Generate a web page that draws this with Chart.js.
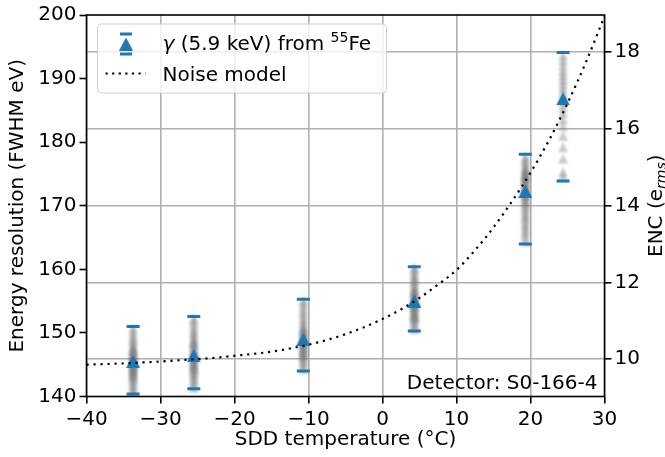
<!DOCTYPE html>
<html>
<head>
<meta charset="utf-8">
<title>SDD energy resolution vs temperature</title>
<style>
    body { margin: 0; background: #fff; }
    #wrap { width: 665px; height: 457px; }
</style>
<script src="https://cdn.jsdelivr.net/npm/chart.js"></script>
</head>
<body>
<div id="wrap"><canvas id="chart"></canvas></div>
<script>
// measurement temperatures (deg C) and the 55Fe peak width summary
const temperature = [-33.7, -25.5, -10.7, 4.3, 19.3, 24.4];
const meanFwhm = [145.5, 146.4, 149.0, 155.0, 172.3, 186.8];
const maxFwhm = [151.0, 152.6, 155.3, 160.4, 178.1, 194.1];
const minFwhm = [140.4, 141.2, 144.0, 150.3, 164.0, 173.9];

// individual runs at each temperature (grey cloud)
const runsM34 = [140.6, 141.0, 141.5, 141.9, 142.4, 142.7, 143.1, 143.3, 143.5, 143.8, 144.0, 144.2, 144.4, 144.6, 144.8, 145.0, 145.2, 145.3, 145.5, 145.7, 145.9, 146.1, 146.2, 146.4, 146.6, 146.8, 147.1, 147.3, 147.5, 147.8, 148.2, 148.7, 149.1, 149.6, 150.2, 150.8];
const runsM26 = [141.4, 141.9, 142.4, 142.8, 143.3, 143.6, 144.0, 144.3, 144.5, 144.8, 145.0, 145.2, 145.5, 145.7, 146.0, 146.2, 146.4, 146.6, 146.8, 147.1, 147.3, 147.6, 148.0, 148.3, 148.5, 148.8, 149.2, 149.7, 150.1, 150.6, 151.2, 151.8, 152.3];
const runsM11 = [144.3, 144.8, 145.3, 145.7, 146.1, 146.4, 146.6, 146.9, 147.1, 147.3, 147.6, 147.8, 148.1, 148.3, 148.5, 148.7, 148.9, 149.2, 149.4, 149.7, 149.9, 150.1, 150.4, 150.6, 150.9, 151.3, 151.8, 152.3, 152.9, 153.4, 154.0, 154.6, 155.1];
const runsP4 = [150.6, 151.0, 151.4, 151.9, 152.2, 152.4, 152.6, 152.8, 153.0, 153.3, 153.5, 153.8, 154.0, 154.2, 154.4, 154.6, 154.8, 155.0, 155.3, 155.5, 155.8, 156.0, 156.2, 156.5, 156.7, 157.0, 157.4, 157.9, 158.2, 158.6, 159.0, 159.5, 160.0, 160.3];
const runsP19 = [164.4, 165.1, 165.7, 166.2, 166.8, 167.3, 167.9, 168.3, 168.8, 169.4, 169.8, 170.3, 170.6, 170.9, 171.3, 171.6, 171.8, 172.1, 172.4, 172.6, 172.8, 173.1, 173.3, 173.6, 173.9, 174.1, 174.3, 174.5, 174.7, 174.9, 175.1, 175.4, 175.6, 175.9, 176.3, 176.8, 177.2, 177.7];
const runsP24 = [174.6, 175.3, 177.4, 179.2, 181.0, 182.5, 183.6, 184.6, 185.5, 186.3, 187.0, 187.7, 188.4, 189.1, 189.8, 190.5, 191.2, 192.0, 192.8, 193.6];
const runsFwhm = [runsM34, runsM26, runsM11, runsP4, runsP19, runsP24];

// noise model curve
const modelTemp = [-40, -37.5, -35, -32.5, -30, -27.5, -25, -22.5, -20, -17.5, -15, -12.5, -10, -7.5, -5, -2.5, 0, 2.5, 5, 7.5, 10, 12.5, 15, 17.5, 20, 22.5, 25, 27.5, 30];
const modelFwhm = [145.0, 145.1, 145.2, 145.35, 145.5, 145.7, 145.9, 146.1, 146.4, 146.7, 147.05, 147.55, 148.15, 148.9, 149.8, 150.9, 152.2, 153.7, 155.5, 157.6, 159.9, 163.0, 166.6, 170.7, 175.2, 180.3, 186.1, 192.6, 199.8];

// axis ticks
const tempTicks = [-40, -30, -20, -10, 0, 10, 20, 30];
const fwhmTicks = [140, 150, 160, 170, 180, 190, 200];
const encTicks = [10, 12, 14, 16, 18];
const encRange = [9.03, 18.96];

const BLUE = '#1f77b4';
const FONT = 'DejaVu Sans';

// triangle marker drawn into a small canvas, used as pointStyle
function triangleImage(w, h, color, blur) {
    const pad = blur ? 3 : 0;
    const c = document.createElement('canvas');
    c.width = w + 2 * pad;
    c.height = h + 2 * pad;
    const g = c.getContext('2d');
    if (blur) g.filter = 'blur(' + blur + 'px)';
    g.fillStyle = color;
    g.beginPath();
    g.moveTo(pad + w / 2, pad);
    g.lineTo(pad + w, pad + h);
    g.lineTo(pad, pad + h);
    g.closePath();
    g.fill();
    return c;
}

const meanMarker = triangleImage(14, 13, BLUE, 0);
const runMarker = triangleImage(10, 10, 'rgba(120,120,120,0.38)', 0.9);

const cloud = [];
runsFwhm.forEach((runs, i) => runs.forEach(v => cloud.push({x: temperature[i], y: v})));
const caps = [];
temperature.forEach((t, i) => {
    caps.push({x: t, y: maxFwhm[i]});
    caps.push({x: t, y: minFwhm[i]});
});
const means = temperature.map((t, i) => ({x: t, y: meanFwhm[i]}));
const model = modelTemp.map((t, i) => ({x: t, y: modelFwhm[i]}));

const fixTicks = arr => scale => { scale.ticks = arr.map(v => ({value: v})); };
const minus = v => String(v).replace('-', '\u2212');

// frame, legend, annotations
const decorations = {
    id: 'decorations',
    afterDatasetsDraw(chart) {
        const {ctx, chartArea: a} = chart;
        ctx.save();
        ctx.strokeStyle = '#000';
        ctx.lineWidth = 1.6;
        ctx.strokeRect(a.left, a.top, a.right - a.left, a.bottom - a.top);
        ctx.restore();
    },
    afterDraw(chart) {
        const {ctx, chartArea: a} = chart;
        ctx.save();

        // legend box
        const bx = a.left + 11, by = a.top + 9, bw = 289, bh = 69, r = 4;
        ctx.beginPath();
        ctx.moveTo(bx + r, by);
        ctx.arcTo(bx + bw, by, bx + bw, by + bh, r);
        ctx.arcTo(bx + bw, by + bh, bx, by + bh, r);
        ctx.arcTo(bx, by + bh, bx, by, r);
        ctx.arcTo(bx, by, bx + bw, by, r);
        ctx.closePath();
        ctx.fillStyle = 'rgba(255,255,255,0.8)';
        ctx.fill();
        ctx.strokeStyle = '#d0d0d0';
        ctx.lineWidth = 1;
        ctx.stroke();

        // errorbar handle
        const mx = bx + 28.5, my = by + 20;
        ctx.strokeStyle = BLUE;
        ctx.lineWidth = 3;
        ctx.beginPath();
        ctx.moveTo(mx - 6, my - 10); ctx.lineTo(mx + 6, my - 10);
        ctx.moveTo(mx - 6, my + 10); ctx.lineTo(mx + 6, my + 10);
        ctx.stroke();
        ctx.drawImage(meanMarker, mx - 7, my - 6.5);

        // noise model handle
        ctx.strokeStyle = '#000';
        ctx.lineWidth = 2.2;
        ctx.setLineDash([2.2, 4.4]);
        ctx.beginPath();
        ctx.moveTo(bx + 8, by + 49.5);
        ctx.lineTo(bx + 48, by + 49.5);
        ctx.stroke();
        ctx.setLineDash([]);

        // legend labels
        ctx.fillStyle = '#000';
        ctx.textBaseline = 'alphabetic';
        let tx = bx + 65;
        const base1 = by + 26;
        ctx.font = 'italic 20px ' + FONT;
        ctx.fillText('\u03b3', tx, base1);
        tx += ctx.measureText('\u03b3').width;
        ctx.font = '20px ' + FONT;
        const mid = ' (5.9 keV) from ';
        ctx.fillText(mid, tx, base1);
        tx += ctx.measureText(mid).width;
        ctx.font = '14px ' + FONT;
        ctx.fillText('55', tx, base1 - 8);
        tx += ctx.measureText('55').width;
        ctx.font = '20px ' + FONT;
        ctx.fillText('Fe', tx, base1);
        ctx.fillText('Noise model', bx + 65, by + 57);

        // detector label
        ctx.textAlign = 'right';
        ctx.fillText('Detector: S0-166-4', a.right - 7, a.bottom - 8);

        // right axis title, reads bottom to top
        ctx.translate(661.5, (a.top + a.bottom) / 2);
        ctx.rotate(-Math.PI / 2);
        ctx.textAlign = 'left';
        ctx.font = '20px ' + FONT;
        const p1 = 'ENC (e';
        const w1 = ctx.measureText(p1).width;
        ctx.font = 'italic 14px ' + FONT;
        const w2 = ctx.measureText('rms').width;
        ctx.font = '20px ' + FONT;
        const w3 = ctx.measureText(')').width;
        let sx = -(w1 + w2 + w3) / 2;
        ctx.fillText(p1, sx, 0);
        sx += w1;
        ctx.font = 'italic 14px ' + FONT;
        ctx.fillText('rms', sx, 4);
        sx += w2;
        ctx.font = '20px ' + FONT;
        ctx.fillText(')', sx, 0);
        ctx.restore();
    }
};

Chart.defaults.font.family = FONT;
Chart.defaults.font.size = 20;
Chart.defaults.color = '#000';

const tickGrid = {
    display: true,
    drawOnChartArea: false,
    tickColor: '#000',
    tickLength: 7,
    tickWidth: 1.6
};

new Chart(document.getElementById('chart'), {
    type: 'scatter',
    data: {
        datasets: [
            {
                label: 'Noise model',
                data: model,
                showLine: true,
                borderColor: '#000',
                borderWidth: 2.2,
                borderDash: [2.2, 4.8],
                borderCapStyle: 'butt',
                cubicInterpolationMode: 'monotone',
                pointRadius: 0,
                order: 0
            },
            {
                label: 'mean',
                data: means,
                pointStyle: meanMarker,
                pointRadius: 7,
                order: 1
            },
            {
                label: 'range',
                data: caps,
                pointStyle: 'line',
                pointRadius: 6.5,
                borderColor: BLUE,
                pointBorderWidth: 3,
                order: 2
            },
            {
                label: 'runs',
                data: cloud,
                pointStyle: runMarker,
                pointRadius: 5,
                order: 3
            }
        ]
    },
    options: {
        responsive: true,
        maintainAspectRatio: false,
        animation: false,
        layout: { padding: { top: 12, left: 0, right: 0, bottom: 0 }, autoPadding: false },
        plugins: { legend: { display: false }, tooltip: { enabled: false } },
        scales: {
            x: {
                type: 'linear',
                min: -40,
                max: 30,
                afterBuildTicks: fixTicks(tempTicks),
                afterFit: s => { s.height = 60.5; },
                border: { display: false },
                grid: { color: '#b0b0b0', lineWidth: 1.6, tickColor: '#000', tickLength: 7, tickWidth: 1.6 },
                ticks: { padding: 4, callback: v => minus(v) },
                title: { display: true, text: 'SDD temperature (\u00b0C)', padding: { top: 0, bottom: 5 } }
            },
            y: {
                type: 'linear',
                position: 'left',
                min: 140,
                max: 200,
                afterBuildTicks: fixTicks(fwhmTicks),
                afterFit: s => { s.width = 86.5; },
                border: { display: false },
                grid: tickGrid,
                ticks: { padding: 3 },
                title: { display: true, text: 'Energy resolution (FWHM eV)', padding: { top: 6, bottom: 0 } }
            },
            y2: {
                type: 'linear',
                position: 'right',
                min: encRange[0],
                max: encRange[1],
                afterBuildTicks: fixTicks(encTicks),
                afterFit: s => { s.width = 60.5; },
                border: { display: false },
                grid: { color: '#b0b0b0', lineWidth: 1.6, tickColor: '#000', tickLength: 7, tickWidth: 1.6 },
                ticks: { padding: 3 }
            }
        }
    },
    plugins: [decorations]
});
</script>
</body>
</html>
